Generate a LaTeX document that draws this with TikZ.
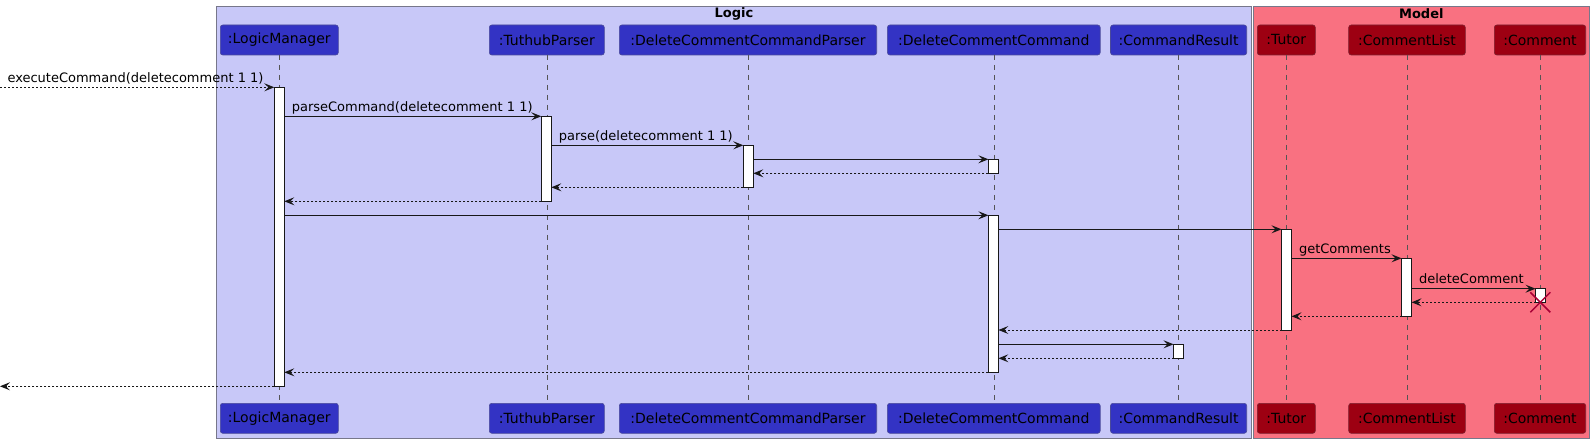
\documentclass[tikz,border=0pt]{standalone}
\usepackage{fontspec}
\setmainfont{DejaVu Sans}
\usetikzlibrary{arrows.meta}
\definecolor{logicbg}{HTML}{C8C8F8}
\definecolor{modelbg}{HTML}{F97181}
\definecolor{pblue}{HTML}{3333C4}
\definecolor{pblueline}{HTML}{4A4A9A}
\definecolor{pred}{HTML}{9D0012}
\definecolor{predline}{HTML}{7E2030}
\definecolor{grpline}{HTML}{77778A}
\definecolor{lifegray}{HTML}{555555}
\definecolor{inkc}{HTML}{181818}
\definecolor{delc}{HTML}{A80036}
\begin{document}
\begin{tikzpicture}[x=1pt,y=-1pt,
  grpbox/.style={draw=grpline, line width=0.8pt, inner sep=0pt, outer sep=0pt, anchor=north west},
  grptitle/.style={font=\fontsize{13}{15}\selectfont\bfseries, inner sep=0pt},
  pbox/.style={rectangle, rounded corners=2.5pt, line width=0.6pt, minimum height=30pt, inner sep=0pt, outer sep=0pt, font=\fontsize{14}{16}\selectfont, text=black},
  lpart/.style={pbox, fill=pblue, draw=pblueline},
  mpart/.style={pbox, fill=pred, draw=predline},
  life/.style={draw=lifegray, line width=0.6pt, dash pattern=on 5pt off 5pt},
  act/.style={rectangle, draw=inkc, fill=white, line width=1pt, minimum width=10pt, inner sep=0pt, outer sep=0pt, anchor=north},
  msg/.style={draw=inkc, line width=1pt, -{Stealth[length=10pt,width=8pt,inset=4pt]}},
  ret/.style={msg, dash pattern=on 2pt off 2pt},
  lbl/.style={font=\fontsize{13}{15}\selectfont, inner sep=0pt, anchor=base west, xshift=7pt, yshift=4.8pt, pos=0},
  delx/.style={draw=delc, line width=1.5pt}
]
\useasboundingbox (0,0) rectangle (1594,443);
\fill[white] (0,0) rectangle (1594,443);

% groups
\node[grpbox, fill=logicbg, minimum width=1035.4pt, minimum height=432.3pt] (logic) at (216.3,6) {};
\node[grpbox, fill=modelbg, minimum width=336pt, minimum height=432.3pt] (model) at (1253.3,6) {};
\node[grptitle] (logict) at (734,13.5) {Logic};
\node[grptitle] (modelt) at (1421.3,13.5) {Model};

% participants
\node[lpart, minimum width=118pt] (lmT) at (279.3,40) {:LogicManager};
\node[lpart, minimum width=115pt] (tpT) at (546.8,40) {:TuthubParser};
\node[lpart, minimum width=257.4pt] (dpT) at (748,40) {:DeleteCommentCommandParser};
\node[lpart, minimum width=212.8pt] (dcT) at (993.8,40) {:DeleteCommentCommand};
\node[lpart, minimum width=136.2pt] (crT) at (1178.6,40) {:CommandResult};
\node[mpart, minimum width=58pt] (tuT) at (1286.3,40) {:Tutor};
\node[mpart, minimum width=116.6pt] (clT) at (1407,40) {:CommentList};
\node[mpart, minimum width=91.4pt] (coT) at (1540,40) {:Comment};

\node[lpart, minimum width=118pt] (lmB) at (279.3,418.3) {:LogicManager};
\node[lpart, minimum width=115pt] (tpB) at (546.8,418.3) {:TuthubParser};
\node[lpart, minimum width=257.4pt] (dpB) at (748,418.3) {:DeleteCommentCommandParser};
\node[lpart, minimum width=212.8pt] (dcB) at (993.8,418.3) {:DeleteCommentCommand};
\node[lpart, minimum width=136.2pt] (crB) at (1178.6,418.3) {:CommandResult};
\node[mpart, minimum width=58pt] (tuB) at (1286.3,418.3) {:Tutor};
\node[mpart, minimum width=116.6pt] (clB) at (1407,418.3) {:CommentList};
\node[mpart, minimum width=91.4pt] (coB) at (1540,418.3) {:Comment};

% lifelines
\draw[life] (lmT) -- (lmB);
\draw[life] (tpT) -- (tpB);
\draw[life] (dpT) -- (dpB);
\draw[life] (dcT) -- (dcB);
\draw[life] (crT) -- (crB);
\draw[life] (tuT) -- (tuB);
\draw[life] (clT) -- (clB);
\draw[life] (coT) -- (coB);

% activation bars
\node[act, minimum height=299pt] (lmA) at (279.3,87.3) {};
\node[act, minimum height=85pt] (tpA) at (546.3,116.3) {};
\node[act, minimum height=42pt] (dpA) at (748.3,145.3) {};
\node[act, minimum height=14pt] (dcA1) at (993.4,159.3) {};
\node[act, minimum height=157pt] (dcA2) at (993.4,215.3) {};
\node[act, minimum height=100.7pt] (tuA) at (1286.5,229.3) {};
\node[act, minimum height=58pt] (clA) at (1406.5,258.3) {};
\node[act, minimum height=13.6pt] (coA) at (1540.5,288.7) {};
\node[act, minimum height=14pt] (crA) at (1178.5,344.3) {};

% free ends
\coordinate (inL) at (0,87.3);
\coordinate (outL) at (0,386.3);

% messages
\draw[ret] (inL) -- (lmA.west |- 0,87.3) node[lbl] {executeCommand(deletecomment 1 1)};
\draw[msg] (lmA.east |- 0,116.3) -- (tpA.west |- 0,116.3) node[lbl] {parseCommand(deletecomment 1 1)};
\draw[msg] (tpA.east |- 0,145.3) -- (dpA.west |- 0,145.3) node[lbl] {parse(deletecomment 1 1)};
\draw[msg] (dpA.east |- 0,159.3) -- (dcA1.west |- 0,159.3);
\draw[ret] (dcA1.west |- 0,173.3) -- (dpA.east |- 0,173.3);
\draw[ret] (dpA.west |- 0,187.3) -- (tpA.east |- 0,187.3);
\draw[ret] (tpA.west |- 0,201.3) -- (lmA.east |- 0,201.3);
\draw[msg] (lmA.east |- 0,215.3) -- (dcA2.west |- 0,215.3);
\draw[msg] (dcA2.east |- 0,229.3) -- (tuA.west |- 0,229.3);
\draw[msg] (tuA.east |- 0,258.3) -- (clA.west |- 0,258.3) node[lbl] {getComments};
\draw[msg] (clA.east |- 0,288.7) -- (coA.west |- 0,288.7) node[lbl] {deleteComment};
\draw[ret] (coA.west |- 0,302.3) -- (clA.east |- 0,302.3);
\draw[ret] (clA.west |- 0,316.3) -- (tuA.east |- 0,316.3);
\draw[ret] (tuA.west |- 0,330) -- (dcA2.east |- 0,330);
\draw[msg] (dcA2.east |- 0,344.3) -- (crA.west |- 0,344.3);
\draw[ret] (crA.west |- 0,358.3) -- (dcA2.east |- 0,358.3);
\draw[ret] (dcA2.west |- 0,372.3) -- (lmA.east |- 0,372.3);
\draw[ret] (lmA.west |- 0,386.3) -- (outL);

% destroy mark
\coordinate (del) at (1540.3,302.3);
\draw[delx] ([shift={(-10,-10)}]del) -- ([shift={(10,10)}]del);
\draw[delx] ([shift={(-10,10)}]del) -- ([shift={(10,-10)}]del);
\end{tikzpicture}
\end{document}
